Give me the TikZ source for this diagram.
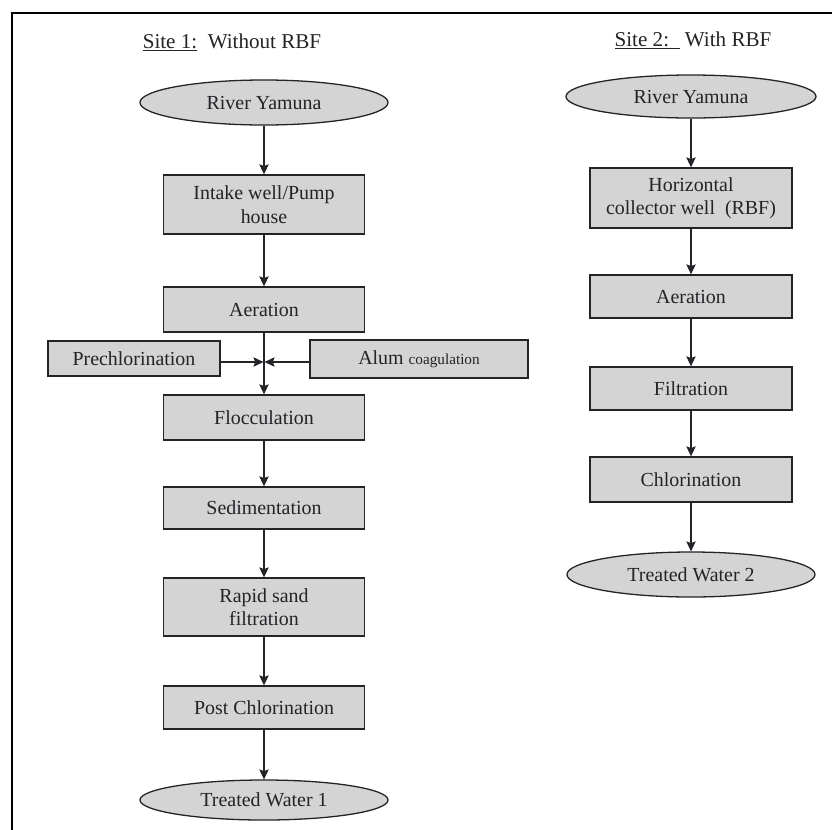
\documentclass[tikz,border=0pt]{standalone}
\usepackage{fontspec}
\setmainfont{Liberation Serif}
\usetikzlibrary{shapes.geometric,arrows.meta}
\definecolor{boxgray}{RGB}{212,212,212}
\definecolor{ink}{RGB}{35,35,40}
\begin{document}
\begin{tikzpicture}[x=0.03cm,y=-0.03cm,
  box/.style={draw=ink, line width=1.2pt, fill=boxgray, rectangle, minimum width=6.03cm,
    align=center, inner sep=0pt, text=ink, font=\fontsize{17}{20}\selectfont},
  oval/.style={draw=ink, line width=1.1pt, fill=boxgray, ellipse, minimum width=7.44cm,
    minimum height=1.35cm, inner sep=0pt, text=ink, font=\fontsize{17}{20}\selectfont},
  title/.style={text=ink, inner sep=0pt, font=\fontsize{18}{21}\selectfont},
  flow/.style={-{Stealth[length=8.5pt,width=8pt,inset=1.5pt]}, line width=0.9pt, draw=ink}]
\useasboundingbox (0,0) rectangle (832,829);
\fill[white] (0,0) rectangle (832,829);
% frame
\draw[line width=1.6pt, black] (12,840) -- (12,13) -- (840,13);

% titles
\node[title] (t1) at (232,42) {\underline{Site 1:}\ \ Without RBF};
\node[title] (t2) at (693,40) {\underline{Site 2:\ \ }\ With RBF};

% left column
\node[oval] (r1) at (264,102.5) {River Yamuna};
\node[box, minimum height=1.77cm] (b1) at (264,204.5) {Intake well/Pump\\house};
\node[box, minimum height=1.35cm] (b2) at (264,309.5) {Aeration};
\node[box, minimum width=5.16cm, minimum height=1.05cm] (pre) at (134,358.5) {Prechlorination};
\node[box, minimum width=6.54cm, minimum height=1.14cm] (alum) at (419,359) {Alum {\fontsize{13}{15}\selectfont coagulation}};
\node[box, minimum height=1.35cm] (b3) at (264,417.5) {Flocculation};
\node[box, minimum height=1.26cm] (b4) at (264,508) {Sedimentation};
\node[box, minimum height=1.74cm] (b5) at (264,607) {Rapid sand\\filtration};
\node[box, minimum height=1.29cm] (b6) at (264,707.5) {Post Chlorination};
\node[oval, minimum height=1.2cm] (r2) at (264,800) {Treated Water 1};
\coordinate (m) at (264,362);

\draw[flow] (r1) -- (b1);
\draw[flow] (b1) -- (b2);
\draw[flow] (b2) -- (b3);
\draw[flow] (pre.east |- m) -- ([xshift=-0.5pt]m);
\draw[flow] (alum.west |- m) -- ([xshift=0.5pt]m);
\draw[flow] (b3) -- (b4);
\draw[flow] (b4) -- (b5);
\draw[flow] (b5) -- (b6);
\draw[flow] (b6) -- (r2);

% right column
\node[oval, minimum width=7.5cm, minimum height=1.29cm] (s1) at (691,96.5) {River Yamuna};
\node[box, minimum width=6.06cm, minimum height=1.8cm] (c1) at (691,198) {Horizontal\\collector well\ \ (RBF)};
\node[box, minimum width=6.06cm, minimum height=1.29cm] (c2) at (691,296.5) {Aeration};
\node[box, minimum width=6.06cm, minimum height=1.29cm] (c3) at (691,388.5) {Filtration};
\node[box, minimum width=6.06cm, minimum height=1.35cm] (c4) at (691,479.5) {Chlorination};
\node[oval, minimum height=1.35cm] (s2) at (691,574.5) {Treated Water 2};

\draw[flow] (s1) -- (c1);
\draw[flow] (c1) -- (c2);
\draw[flow] (c2) -- (c3);
\draw[flow] (c3) -- (c4);
\draw[flow] (c4) -- (s2);
\end{tikzpicture}
\end{document}
